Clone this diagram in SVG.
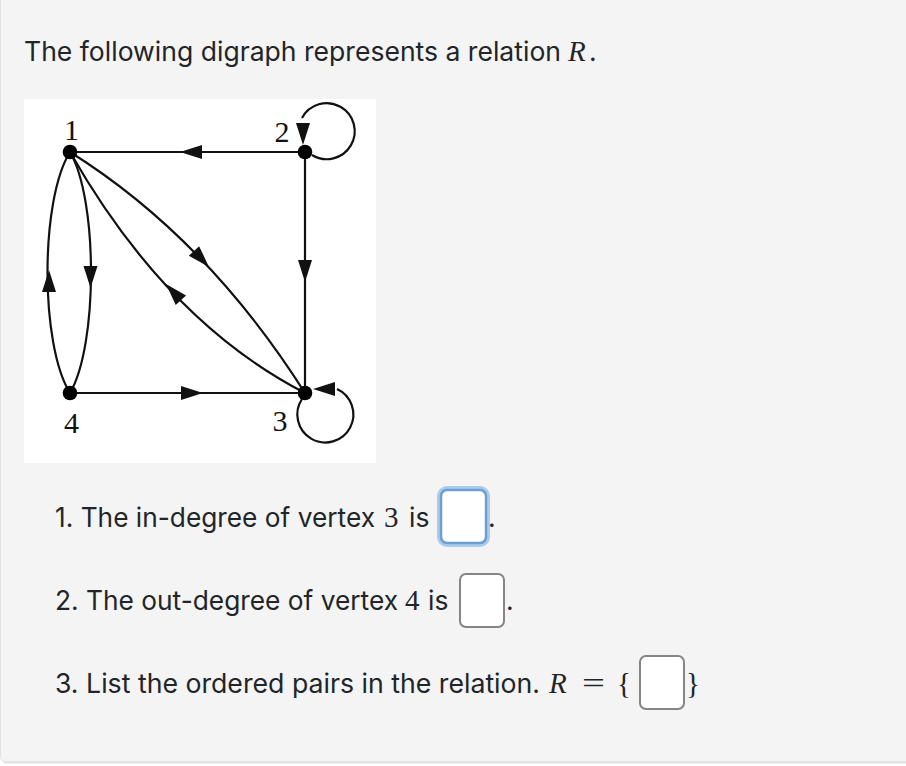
<svg xmlns="http://www.w3.org/2000/svg" xmlns:xlink="http://www.w3.org/1999/xlink" width="906" height="766" viewBox="0 0 906 766">
<defs>
<style>
.txt{font-family:Inter,"Noto Sans","Liberation Sans",sans-serif;font-size:26.5px;fill:#212529}
.math{font-family:"Liberation Serif","DejaVu Serif",serif;font-size:29px;fill:#212529}
.mi{font-style:italic}
.lbl{font-family:"Liberation Serif","DejaVu Serif",serif;font-size:30px;fill:#111;text-anchor:middle}
.edge{fill:none;stroke:#111;stroke-width:2.2}
.node{fill:#000}
.box{fill:#fff;stroke:#858585;stroke-width:2}
</style>
<path id="ah" d="M0,0 L-22,-7 L-22,7 Z" fill="#111"/>
</defs>
<rect x="0.5" y="-10" width="920" height="772" rx="5" fill="#f4f4f4" stroke="#e2e2e2" stroke-width="1"/>
<line x1="4" y1="762.5" x2="906" y2="762.5" stroke="#e0e0e0" stroke-width="2"/>
<text class="txt" x="24" y="61" textLength="537" lengthAdjust="spacingAndGlyphs">The following digraph represents a relation</text>
<text class="math mi" x="568" y="61" font-size="31">R</text>
<text class="txt" x="589" y="61">.</text>
<rect x="24" y="99" width="352" height="364" fill="#fff"/>
<g id="connectors">
<line class="edge" x1="305" y1="152" x2="70" y2="152"/>
<use xlink:href="#ah" transform="translate(180,152) rotate(180)"/>
<line class="edge" x1="305" y1="152" x2="305" y2="393"/>
<use xlink:href="#ah" transform="translate(305,282) rotate(90)"/>
<line class="edge" x1="70" y1="393" x2="305" y2="393"/>
<use xlink:href="#ah" transform="translate(203,393)"/>
<path class="edge" d="M70,152 C98,200 98,345 70,393"/>
<use xlink:href="#ah" transform="translate(90.5,288) rotate(90)"/>
<path class="edge" d="M70,393 C40,345 40,200 70,152"/>
<use xlink:href="#ah" transform="translate(49,270) rotate(-90)"/>
<path class="edge" d="M70,152 Q206.5,237.5 305,393"/>
<use xlink:href="#ah" transform="translate(209,267) rotate(47)"/>
<path class="edge" d="M305,393 Q166.5,321.5 70,152"/>
<use xlink:href="#ah" transform="translate(166,284) rotate(-132.6)"/>
<path class="edge" d="M312,155 A28,28 0 1 0 302,118"/>
<use xlink:href="#ah" transform="translate(303,145) rotate(90)"/>
<path class="edge" d="M302,399 A28,28 0 1 0 337,389"/>
<use xlink:href="#ah" transform="translate(313,389) rotate(180)"/>
</g>
<g id="node1"><circle class="node" cx="70" cy="152" r="7.3"/><text class="lbl" x="71.5" y="140">1</text></g>
<g id="node2"><circle class="node" cx="305" cy="152" r="7.3"/><text class="lbl" x="282" y="142">2</text></g>
<g id="node3"><circle class="node" cx="305" cy="393" r="7.3"/><text class="lbl" x="280" y="431">3</text></g>
<g id="node4"><circle class="node" cx="70" cy="393" r="7.3"/><text class="lbl" x="71.5" y="433">4</text></g>
<text class="txt" x="55" y="527" textLength="320" lengthAdjust="spacingAndGlyphs">1. The in-degree of vertex</text>
<text class="math" x="384" y="527">3</text>
<text class="txt" x="409" y="527">is</text>
<rect x="440" y="489" width="47" height="55" rx="7" fill="none" stroke="#a9cbec" stroke-width="6"/>
<rect x="441" y="490" width="45" height="53" rx="6" fill="#fff" stroke="#6b9fd3" stroke-width="2.5"/>
<text class="txt" x="488" y="527">.</text>
<text class="txt" x="55" y="610" textLength="343" lengthAdjust="spacingAndGlyphs">2. The out-degree of vertex</text>
<text class="math" x="405" y="610">4</text>
<text class="txt" x="428" y="610">is</text>
<rect class="box" x="460" y="574" width="44" height="53" rx="6"/>
<text class="txt" x="506" y="610">.</text>
<text class="txt" x="55" y="693" textLength="485" lengthAdjust="spacingAndGlyphs">3. List the ordered pairs in the relation.</text>
<text class="math mi" x="549" y="693" font-size="31">R</text>
<text class="math" x="582" y="693" textLength="23" lengthAdjust="spacingAndGlyphs">=</text>
<text class="math" x="617" y="693">{</text>
<rect class="box" x="640" y="656" width="44" height="53" rx="6"/>
<text class="math" x="686" y="693">}</text>
</svg>
